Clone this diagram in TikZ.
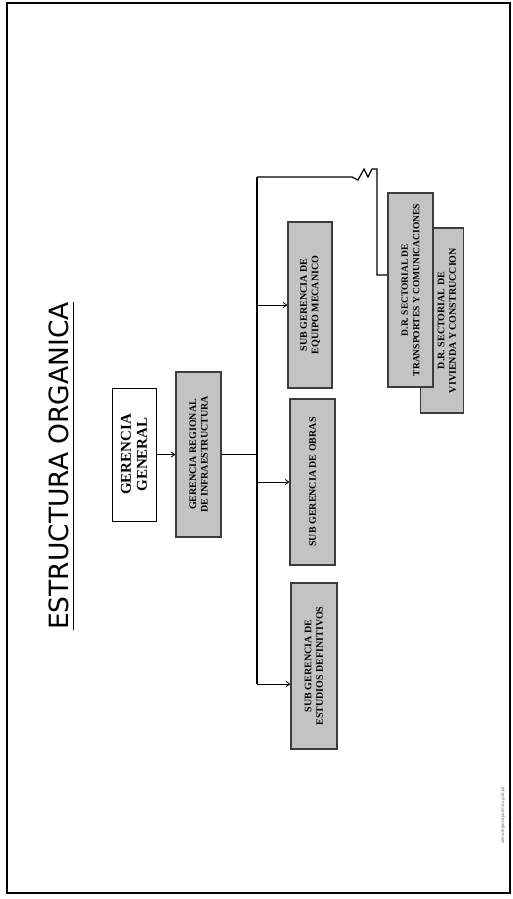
\documentclass[tikz,border=0pt]{standalone}
\usepackage{fontspec}
\setmainfont{Liberation Serif}
\setsansfont{Liberation Sans}
\newfontfamily\titlefont{DejaVu Sans}
\definecolor{orggray}{RGB}{195,195,195}
\definecolor{orgline}{RGB}{60,60,60}
\usetikzlibrary{arrows.meta,positioning}

\begin{document}
\begin{tikzpicture}[x=1pt,y=-1pt,
  unit/.style={rotate=90,draw=orgline,line width=1.1pt,fill=orggray,align=center,
    inner sep=2pt,font=\bfseries\fontsize{10}{11.5}\selectfont},
  unittext/.style={rotate=90,align=center,inner sep=0pt,font=\bfseries\fontsize{10}{11.5}\selectfont},
  head/.style={rotate=90,draw=black,line width=0.9pt,fill=white,align=center,
    font=\bfseries\fontsize{15}{16}\selectfont},
  link/.style={line width=1.2pt},
  arr/.style={line width=0.9pt,-{Straight Barb[length=3.5pt,width=5pt]}}]
  \useasboundingbox (0,0) rectangle (512,899);
  \draw[line width=1.3pt] (7,3) rectangle (510,893);
  \node[rotate=90,inner sep=0pt,font=\titlefont\fontsize{26.5}{30}\selectfont] (title) at (59,466) {ESTRUCTURA ORGANICA};
  \draw[line width=1pt] ([xshift=4pt]title.south west) -- ([xshift=4pt]title.south east);
  \node[head,minimum width=133pt,minimum height=44pt] (gg) at (134,454.5) {GERENCIA\\GENERAL};
  \node[unit,minimum width=165pt,minimum height=45pt] (gr) at (198.5,454.5) {GERENCIA REGIONAL\\DE INFRAESTRUCTURA};
  \node[unit,minimum width=166pt,minimum height=44pt] (sem) at (310,305) {SUB GERENCIA DE\\EQUIPO MECANICO};
  \node[unit,minimum width=166pt,minimum height=45pt] (sob) at (312.5,482) {SUB GERENCIA DE OBRAS};
  \node[unit,minimum width=166pt,minimum height=46pt] (sed) at (314,666) {SUB GERENCIA DE\\ESTUDIOS DEFINITIVOS};
  \node[unit,minimum width=185pt,minimum height=43pt] (drv) at (442,320.5) {};
  \node[unittext] (drvtext) at ([xshift=5pt]drv.center) {D.R. SECTORIAL DE\\VIVIENDA Y CONSTRUCCION};
  \node[unit,minimum width=194pt,minimum height=45pt,font=\bfseries\fontsize{9.5}{11.5}\selectfont] (drt) at (410.5,290) {D.R. SECTORIAL DE\\TRANSPORTES Y COMUNICACIONES};
  \node[rotate=90,text=black!55,font=\sffamily\fontsize{4.5}{5}\selectfont] (web) at (503,815) {www.regionapurimac.gob.pe};
  \coordinate (bustop) at (257,177);
  \coordinate (busbot) at (257,684);
  \coordinate (drin) at (377,275);
  \draw[arr] (gg) -- (gr);
  \draw[link] (gr) -- (gr -| bustop);
  \draw[link] (bustop) -- (busbot);
  \draw[arr] (bustop |- sem) -- (sem);
  \draw[arr] (bustop |- sob) -- (sob);
  \draw[arr] (busbot) -- (sed.north |- busbot);
  \draw[link] (bustop) -- (352,177) -- (358,180) -- (364,169) -- (368,177) -- (372,169)
    -- (drin |- 0,169) -- (drin) -- (drt.north |- drin);
\end{tikzpicture}
\end{document}
